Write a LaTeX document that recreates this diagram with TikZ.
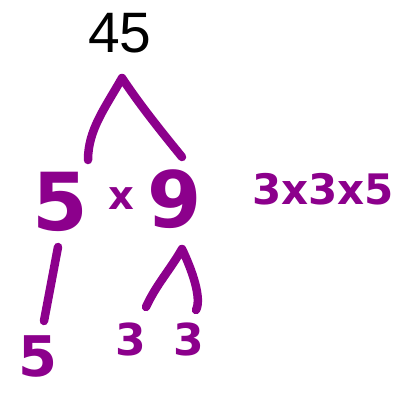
\documentclass[tikz,border=0pt]{standalone}
\usepackage{fontspec}
\setmainfont{Liberation Sans}
\newfontfamily\handfont{DejaVu Sans}
\definecolor{hand}{RGB}{140,0,140}
\tikzset{
  branch/.style={draw=hand, line width=8.5pt, line cap=round, line join=round},
  hw/.style={text=hand, inner sep=0pt, font=\handfont\bfseries\fontsize{#1}{#1}\selectfont},
}
\begin{document}
\begin{tikzpicture}[x=1pt,y=-1pt]
\useasboundingbox[fill=white] (0,0) rectangle (401,394);
% numbers
\node[inner sep=0pt, font=\fontsize{57}{57}\selectfont] (n45) at (120,33) {45};
\node[hw=80] (f5) at (60,202) {5};
\node[hw=40] (fx) at (121,199) {x};
\node[hw=78] (f9) at (175,199) {9};
\node[hw=42] (prod) at (323,189) {3x3x5};
\node[hw=56] (l5) at (38,356) {5};
\node[hw=44] (l3a) at (131,339) {3};
\node[hw=44] (l3b) at (189,339) {3};
% branch points
\coordinate (top) at (122,78);
\coordinate (topL) at (88,160);
\coordinate (topR) at (182,157);
\coordinate (d5a) at (58,247);
\coordinate (d5b) at (44,321);
\coordinate (r9) at (182,249);
\coordinate (r9L) at (146,307);
\coordinate (r9R) at (196,310);
% connectors
\draw[branch] (topL) .. controls (88,130) and (105,108) .. (top) .. controls (140,105) and (160,130) .. (topR);
\draw[branch] (d5a) -- (d5b);
\draw[branch] (r9L) .. controls (156,285) and (170,270) .. (r9) .. controls (192,270) and (202,298) .. (r9R);
\end{tikzpicture}
\end{document}
